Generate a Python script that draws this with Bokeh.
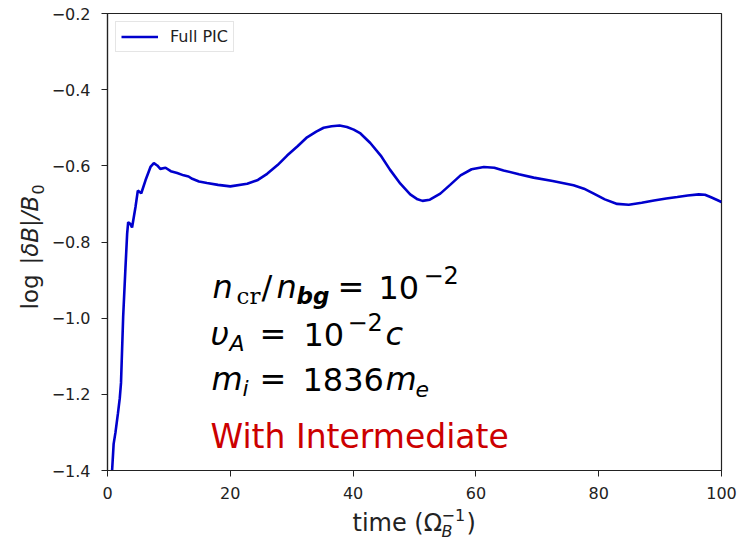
from bokeh.plotting import figure
from bokeh.models import (FixedTicker, CustomJSTickFormatter, Label, Legend,
                          LegendItem, ColumnDataSource)
from bokeh.embed import file_html
from bokeh.resources import INLINE

# ---- data ----
time = [0.75, 1.0, 1.3, 1.7, 2.0, 2.2, 2.55, 2.93, 3.2, 3.37, 3.7, 4.0, 4.56, 4.94,
        5.5, 6.19, 7.0, 7.55, 8.1, 8.6, 9.45, 10.3, 11.35, 12.4, 13.2, 13.8, 14.9,
        16.2, 18.0, 20.0, 22.75, 24.5, 26.0, 27.7, 29.25, 31.0, 32.5, 34.0, 35.2,
        36.5, 37.8, 39.0, 40.1, 41.2, 42.8, 44.5, 46.0, 47.7, 49.3, 50.5, 51.3,
        52.5, 54.2, 55.8, 57.5, 59.3, 61.3, 63.0, 64.5, 67.0, 69.4, 72.5, 75.9,
        77.6, 79.2, 81.0, 83.0, 84.9, 87.0, 89.0, 91.0, 92.8, 94.5, 96.3, 97.3,
        98.2, 99.2, 100.0]
log_dB = [-1.40, -1.33, -1.30, -1.25, -1.21, -1.17, -0.997, -0.866, -0.778, -0.748,
          -0.752, -0.762, -0.708, -0.665, -0.672, -0.638, -0.603, -0.593, -0.599,
          -0.608, -0.605, -0.614, -0.619, -0.625, -0.628, -0.634, -0.641, -0.645,
          -0.650, -0.654, -0.647, -0.637, -0.621, -0.598, -0.573, -0.548, -0.525,
          -0.510, -0.500, -0.496, -0.494, -0.498, -0.505, -0.515, -0.540, -0.573,
          -0.610, -0.647, -0.675, -0.688, -0.692, -0.689, -0.673, -0.650, -0.625,
          -0.609, -0.603, -0.605, -0.612, -0.622, -0.631, -0.640, -0.651, -0.660,
          -0.673, -0.688, -0.700, -0.702, -0.697, -0.691, -0.686, -0.682, -0.678,
          -0.675, -0.676, -0.682, -0.689, -0.695]
x_ticks = [0, 20, 40, 60, 80, 100]
y_ticks = [-1.4, -1.2, -1.0, -0.8, -0.6, -0.4, -0.2]
series_name = "Full PIC"
note_text = "With Intermediate"

TXT = "#222222"
FRAME_LEFT, FRAME_BOTTOM = 107, 470   # canvas px of the frame's left/bottom edges
K = 0.35                              # baseline correction (fraction of font size)

p = figure(frame_width=614, frame_height=457, x_range=(0, 100), y_range=(-1.4, -0.2),
           output_backend="svg", toolbar_location=None,
           min_border_left=FRAME_LEFT, min_border_top=13, min_border_right=20,
           min_border_bottom=70)
p.grid.visible = False
p.outline_line_color = TXT
p.outline_line_width = 1.2
p.background_fill_color = "white"
p.border_fill_color = "white"

for ax in (p.xaxis[0], p.yaxis[0]):
    ax.axis_line_color = TXT
    ax.axis_line_width = 1.2
    ax.major_tick_line_color = TXT
    ax.major_tick_out = 6
    ax.major_tick_in = 0
    ax.minor_tick_line_color = None
    ax.major_label_text_font = "DejaVu Sans"
    ax.major_label_text_font_size = "16px"
    ax.major_label_text_color = TXT
p.xaxis.major_label_standoff = 10
p.yaxis.major_label_standoff = 11
p.xaxis.ticker = FixedTicker(ticks=x_ticks)
p.yaxis.ticker = FixedTicker(ticks=y_ticks)
p.yaxis.formatter = CustomJSTickFormatter(
    code="return tick.toFixed(1).replace('-', '\u2212');")

src = ColumnDataSource(dict(t=time, v=log_dB))
r = p.line("t", "v", source=src, line_color="#0000cd", line_width=2.6)

legend = Legend(items=[LegendItem(label=series_name, renderers=[r])],
                location="top_left", margin=8, padding=5, spacing=0,
                glyph_width=37, glyph_height=19, label_standoff=12,
                label_text_font="DejaVu Sans", label_text_font_size="16px",
                label_text_color=TXT, border_line_color="#cccccc",
                border_line_width=1, background_fill_alpha=0.85)
p.add_layout(legend)


def txt(px, py, s, size, style="normal", font="DejaVu Sans", color="black"):
    """text inside the frame; (px, py) = wanted canvas position of the baseline start"""
    p.add_layout(Label(x=px - FRAME_LEFT, y=FRAME_BOTTOM - py + K * size,
                       x_units="screen", y_units="screen", text=s,
                       text_font=font, text_font_size=f"{size}px",
                       text_font_style=style, text_color=color,
                       text_baseline="alphabetic", text_align="left"))


def side_txt(px, py, s, size, style="normal", vertical=False):
    """axis-title piece, drawn from a side panel in canvas units"""
    if vertical:
        cx, cy, ang = px - K * size, py, 90
    else:
        cx, cy, ang = px, py - K * size, 0
    p.add_layout(Label(x=cx, y=cy, x_units="canvas", y_units="canvas", text=s,
                       text_font="DejaVu Sans", text_font_size=f"{size}px",
                       text_font_style=style, text_color=TXT,
                       text_baseline="alphabetic", text_align="left",
                       angle=ang, angle_units="deg"), "right")


# axis titles
side_txt(38, 309, "log", 23, vertical=True)
side_txt(38, 264, "|δB|/B", 23, style="italic", vertical=True)
side_txt(43, 194, "0", 16, vertical=True)
side_txt(352, 531, "time (Ω", 24)
side_txt(441, 537, "B", 16, style="italic")
side_txt(441, 520, "−1", 16)
side_txt(466, 531, ")", 24)

# annotation block
F = 32
S = 22
U = 24
# line 1: n_cr / n_bg = 10^-2
txt(212, 298, "n", F, "italic")
txt(236, 304, "cr", 23, font="DejaVu Serif")
txt(261, 298, "/", F)
txt(276, 298, "n", F, "italic")
txt(296, 304, "bg", 23, "bold italic")
txt(337, 298, "=", F)
txt(378, 298, "10", F)
txt(423, 283, "−2", U)
# line 2: v_A = 10^-2 c
txt(210, 345, "υ", F, "italic")
txt(229, 351, "A", S, "italic")
txt(259, 345, "=", F)
txt(303, 345, "10", F)
txt(347, 330, "−2", U)
txt(385, 345, "c", F, "italic")
# line 3: m_i = 1836 m_e
txt(211, 390, "m", F, "italic")
txt(242, 396, "i", S, "italic")
txt(259, 390, "=", F)
txt(302, 390, "1836", F)
txt(385, 390, "m", F, "italic")
txt(415, 396, "e", S, "italic")
# red note
txt(210, 448, note_text, 33, color="#cc0000")

open("out.html", "w").write(file_html(p, INLINE))
